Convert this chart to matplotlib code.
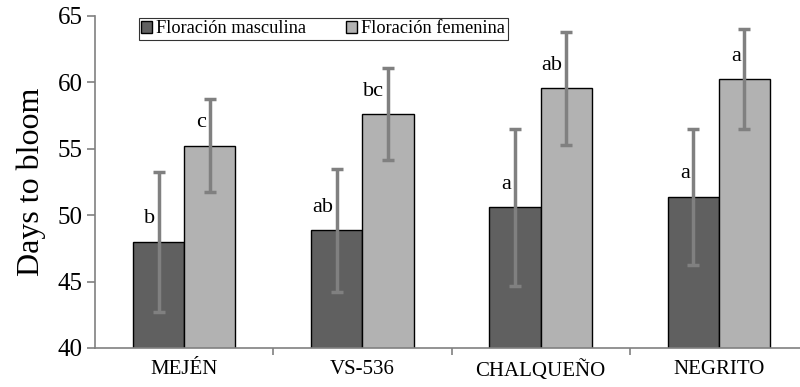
import numpy as np
import matplotlib
matplotlib.use("Agg")
import matplotlib.pyplot as plt
from matplotlib.ticker import FixedLocator

plt.rcParams['font.family'] = ['Liberation Serif', 'DejaVu Serif']

# datos
variedades = ["MEJÉN", "VS-536", "CHALQUEÑO", "NEGRITO"]
masculina = [48.0, 48.85, 50.6, 51.4]
masculina_err = [5.26, 4.66, 5.9, 5.12]
femenina = [55.24, 57.6, 59.56, 60.27]
femenina_err = [3.52, 3.47, 4.27, 3.75]
letras_masc = ["b", "ab", "a", "a"]
letras_fem = ["c", "bc", "ab", "a"]

fig = plt.figure(figsize=(8, 3.87), dpi=100)
ax = fig.add_axes([95/800, 39/387, 705/800, 332/387])

x = np.arange(len(variedades))
w = 0.287
gris = "#808080"

ax.bar(x - w/2, masculina, w, color="#606060", edgecolor="black",
       linewidth=1, label="Floración masculina", zorder=2)
ax.bar(x + w/2, femenina, w, color="#b2b2b2", edgecolor="black",
       linewidth=1, label="Floración femenina", zorder=2)
ax.errorbar(x - w/2, masculina, yerr=masculina_err, fmt="none", ecolor=gris,
            elinewidth=2.5, capsize=4.5, capthick=2.5, zorder=3)
ax.errorbar(x + w/2, femenina, yerr=femenina_err, fmt="none", ecolor=gris,
            elinewidth=2.5, capsize=4.5, capthick=2.5, zorder=3)

for i in range(len(x)):
    ax.text(x[i] - w/2 - 0.02, masculina[i] + 1.0, letras_masc[i],
            ha="right", va="bottom", fontsize=16)
    ax.text(x[i] + w/2 - 0.02, femenina[i] + 1.0, letras_fem[i],
            ha="right", va="bottom", fontsize=16)

ax.set_ylim(40, 65)
ax.set_xlim(-0.5, 3.455)
ax.set_yticks([40, 45, 50, 55, 60, 65])
ax.set_xticks(x)
ax.set_xticklabels(variedades)
ax.xaxis.set_minor_locator(FixedLocator([0.5, 1.5, 2.5]))
ax.tick_params(axis="x", which="major", length=0, pad=9, labelsize=15)
ax.tick_params(axis="x", which="minor", length=5, color=gris, width=1.2)
ax.tick_params(axis="y", length=6, color=gris, width=1.2, labelsize=18, pad=3)
ax.set_ylabel("Days to bloom", fontsize=23, labelpad=8)

for s in ["top", "right"]:
    ax.spines[s].set_visible(False)
for s in ["left", "bottom"]:
    ax.spines[s].set_color(gris)
    ax.spines[s].set_linewidth(1.2)

leg = ax.legend(loc="upper left", bbox_to_anchor=(0.062, 0.995), ncol=2,
                frameon=True, fancybox=False, fontsize=13.2, handlelength=0.6,
                handleheight=0.6, handletextpad=0.2, columnspacing=2.2,
                borderpad=0.15, borderaxespad=0)
leg.get_frame().set_edgecolor("black")
leg.get_frame().set_linewidth(0.8)

fig.savefig("out.png", dpi=100)
